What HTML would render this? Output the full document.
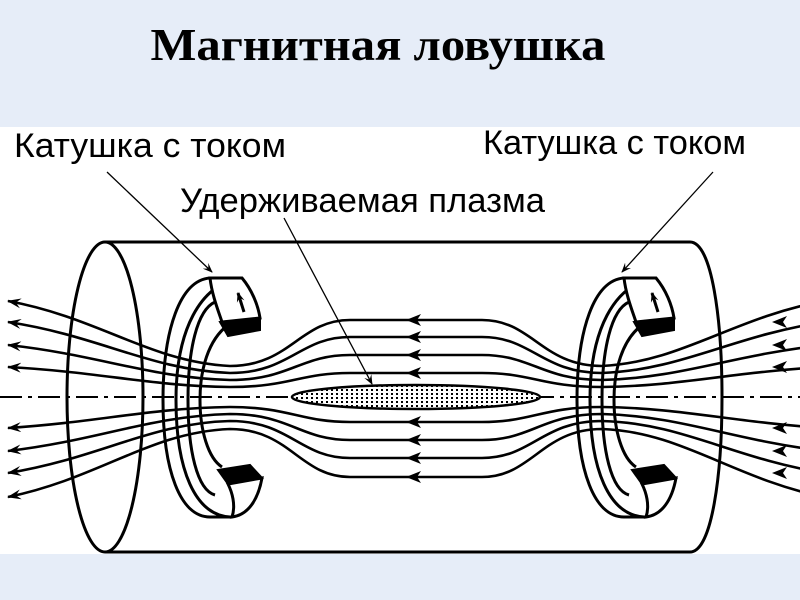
<!DOCTYPE html>
<html><head><meta charset="utf-8"><style>
html,body{margin:0;padding:0;width:800px;height:600px;overflow:hidden;background:#e6edf8;}
svg{position:absolute;left:0;top:0}
</style></head><body>
<svg width="800" height="600" viewBox="0 0 800 600" xmlns="http://www.w3.org/2000/svg">
<defs>
<marker id="ah" markerWidth="14" markerHeight="10" refX="1" refY="5" orient="auto" markerUnits="userSpaceOnUse">
<path d="M14,0 L0,5 L14,10 L9,5 Z" fill="#000"/></marker>
<marker id="ae" markerWidth="10" markerHeight="8" refX="9" refY="4" orient="auto" markerUnits="userSpaceOnUse">
<path d="M0,0 L10,4 L0,8 L4,4 Z" fill="#000"/></marker>
<pattern id="dots" width="5" height="4" patternUnits="userSpaceOnUse"><rect width="5" height="4" fill="#fff"/><rect x="1" y="1" width="2" height="2" fill="#000"/></pattern>
<g id="coil">
<g stroke="#000" stroke-width="3" fill="none">
<path d="M210,278 C180,280 163,330 163,400 C163,470 180,517 210,517 L232,517"/>
<path d="M240,278 C200,285 176,330 176,400 C176,470 195,515 230,517"/>
<path d="M215,302 C197,310 188,350 188,400 C188,450 197,490 215,495"/>
<path d="M228,325 C208,340 200,370 200,400 C200,430 208,458 222,467"/>
</g>
<path d="M210,278 L242,278 C252,290 258,305 260,318 L222,322 C218,310 212,295 210,278 Z" fill="#fff" stroke="#000" stroke-width="3"/>
<path d="M220,322 L260,318 L260,330 L228,336 Z" fill="#000" stroke="#000" stroke-width="2"/>
<path d="M218,470 L250,465 L262,478 L228,484 Z" fill="#000" stroke="#000" stroke-width="2"/>
<path d="M228,484 L262,478 C258,500 248,515 232,517 C236,505 232,492 228,484 Z" fill="#fff" stroke="#000" stroke-width="3"/>
<path d="M244,312 L238,293" stroke="#000" stroke-width="3" marker-end="url(#ae)"/>
</g>
</defs>
<rect x="0" y="127" width="800" height="427" fill="#fff"/>
<text x="378" y="60" text-anchor="middle" font-family="Liberation Serif, serif" font-weight="bold" font-size="46" fill="#000" textLength="455" lengthAdjust="spacingAndGlyphs">Магнитная ловушка</text>
<g font-family="Liberation Sans, sans-serif" font-size="34" fill="#000">
<text x="14" y="157" textLength="272" lengthAdjust="spacingAndGlyphs">Катушка с током</text>
<text x="483" y="154" textLength="263" lengthAdjust="spacingAndGlyphs">Катушка с током</text>
<text x="180" y="212" textLength="365" lengthAdjust="spacingAndGlyphs">Удерживаемая плазма</text>
</g>
<g fill="none" stroke="#000" stroke-width="3">
<line x1="105" y1="242" x2="690" y2="242"/>
<line x1="105" y1="552" x2="690" y2="552"/>
<ellipse cx="105" cy="397" rx="38" ry="155"/>
<path d="M690,242 C712,242 722,320 722,397 C722,474 712,552 690,552"/>
<line x1="0" y1="397" x2="800" y2="397" stroke-width="2" stroke-dasharray="22,6,4,6"/>
</g>
<g fill="none" stroke="#000" stroke-width="2.6">
<path d="M8,301 C100,318 150,362 230,366 C290,366 300,320 350,320 H482 C532,320 542,366 602,366 C682,362 732,318 824,301" marker-start="url(#ah)"/>
<path d="M8,322 C100,336 150,370 230,373 C290,373 300,337 350,337 H482 C532,337 542,373 602,373 C682,370 732,336 824,322" marker-start="url(#ah)"/>
<path d="M8,345 C100,355 150,378 230,380 C290,380 300,355 350,355 H482 C532,355 542,380 602,380 C682,378 732,355 824,345" marker-start="url(#ah)"/>
<path d="M8,367 C100,372 150,386 230,387 C290,387 300,373 350,373 H482 C532,373 542,387 602,387 C682,386 732,372 824,367" marker-start="url(#ah)"/>
<path d="M8,428 C100,422 150,408 230,407 C290,407 300,422 350,422 H482 C532,422 542,407 602,407 C682,408 732,422 824,428" marker-start="url(#ah)"/>
<path d="M8,451 C100,440 150,416 230,414 C290,414 300,440 350,440 H482 C532,440 542,414 602,414 C682,416 732,440 824,451" marker-start="url(#ah)"/>
<path d="M8,473 C100,458 150,423 230,421 C290,421 300,458 350,458 H482 C532,458 542,421 602,421 C682,423 732,458 824,473" marker-start="url(#ah)"/>
<path d="M8,497 C100,478 150,432 230,429 C290,429 300,477 350,477 H482 C532,477 542,429 602,429 C682,432 732,478 824,497" marker-start="url(#ah)"/>
</g>
<g fill="#000">
<path d="M406,320 l15,-6 l-4,6 l4,6 z"/><path d="M406,337 l15,-6 l-4,6 l4,6 z"/>
<path d="M406,355 l15,-6 l-4,6 l4,6 z"/><path d="M406,373 l15,-6 l-4,6 l4,6 z"/>
<path d="M406,422 l15,-6 l-4,6 l4,6 z"/><path d="M406,440 l15,-6 l-4,6 l4,6 z"/>
<path d="M406,458 l15,-6 l-4,6 l4,6 z"/><path d="M406,477 l15,-6 l-4,6 l4,6 z"/>
<path d="M772,322 l15,-6 l-4,6 l4,6 z"/><path d="M772,345 l15,-6 l-4,6 l4,6 z"/>
<path d="M772,367 l15,-6 l-4,6 l4,6 z"/><path d="M772,428 l15,-6 l-4,6 l4,6 z"/>
<path d="M772,451 l15,-6 l-4,6 l4,6 z"/><path d="M772,473 l15,-6 l-4,6 l4,6 z"/>
</g>
<ellipse cx="416" cy="397" rx="124" ry="12" fill="url(#dots)" stroke="#000" stroke-width="2.5"/>
<use href="#coil"/>
<use href="#coil" transform="translate(414,0)"/>
<g stroke="#000" stroke-width="1.3" fill="none">
<line x1="107" y1="172" x2="212" y2="272" marker-end="url(#ae)"/>
<line x1="713" y1="172" x2="622" y2="272" marker-end="url(#ae)"/>
<line x1="284" y1="218" x2="372" y2="384" marker-end="url(#ae)"/>
</g>
</svg>
</body></html>
